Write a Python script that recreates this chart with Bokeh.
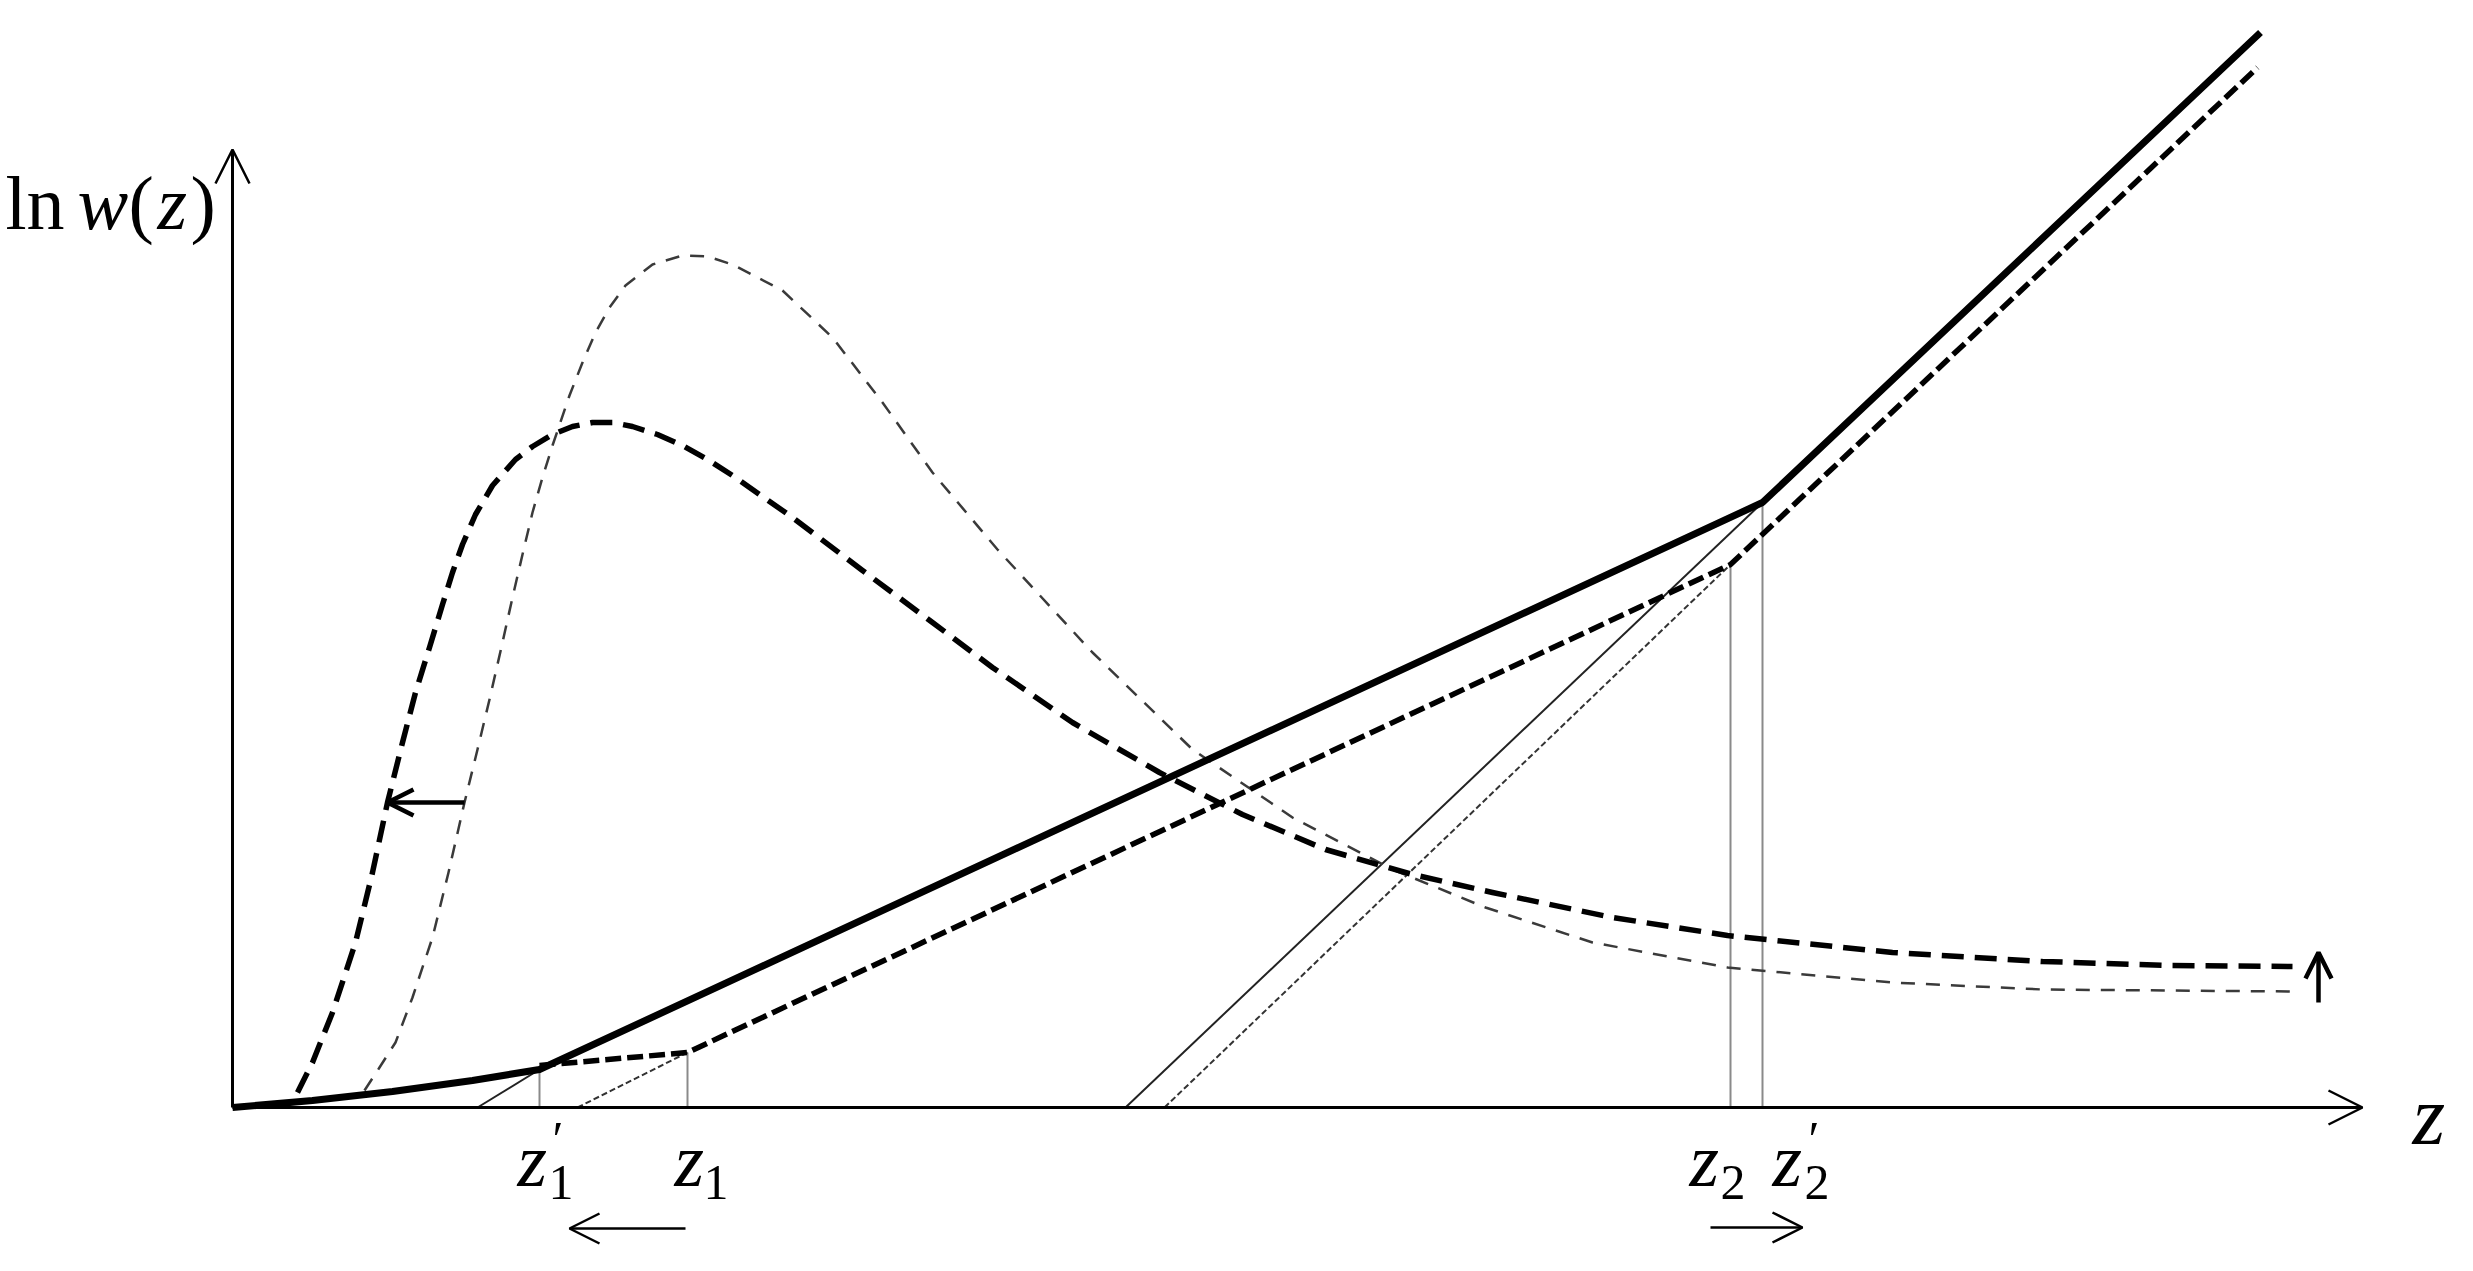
from bokeh.plotting import figure
from bokeh.models import Range1d, Arrow, OpenHead
from bokeh.core.properties import value
from bokeh.embed import file_html
from bokeh.resources import INLINE

# ---------------- data (schematic units: z along x, ln w(z) along y) ----------------
# thick solid ln w(z) (new), piecewise with kinks at z1' and z2'
solid_z = [0.0, 0.8, 1.6, 2.4, 3.07, 15.30, 20.28]
solid_w = [0.0, 0.07, 0.16, 0.27, 0.38, 6.05, 10.75]

# thick dashed ln w(z) (old), kinks at z1 and z2
dline_z = [3.07, 4.55, 14.98, 20.25]
dline_w = [0.42, 0.55, 5.43, 10.40]

# thin extension lines
ext1_z = [2.45, 3.07];   ext1_w = [0.0, 0.38]     # solid, to z1'
ext2_z = [3.45, 4.55];   ext2_w = [0.0, 0.55]     # dotted, to z1
ext3_z = [8.93, 15.30];  ext3_w = [0.0, 6.05]     # solid, to z2'
ext4_z = [9.32, 14.98];  ext4_w = [0.0, 5.43]     # dotted, to z2

# vertical markers
mark_z = [3.07, 4.55, 14.98, 15.30]
mark_w = [0.38, 0.55, 5.43, 6.05]

# thick dashed density curve (shifted)
bell1_z = [0.65, 0.80, 1.00, 1.23, 1.40, 1.55, 1.70, 1.83, 1.97, 2.10, 2.20, 2.30, 2.43,
           2.60, 2.83, 3.00, 3.20, 3.40, 3.60, 3.80, 4.00, 4.25, 4.50, 4.75, 5.00, 5.60,
           6.30, 7.00, 7.60, 8.40, 9.27, 10.10, 10.93, 11.80, 12.60, 13.80, 14.95, 16.60,
           18.10, 19.40, 20.60]
bell1_w = [0.15, 0.45, 0.95, 1.65, 2.35, 3.05, 3.65, 4.15, 4.60, 5.03, 5.35, 5.63, 5.93,
           6.22, 6.48, 6.61, 6.73, 6.81, 6.85, 6.85, 6.81, 6.73, 6.62, 6.48, 6.32, 5.90,
           5.37, 4.85, 4.40, 3.85, 3.35, 2.93, 2.58, 2.33, 2.15, 1.90, 1.72, 1.55,
           1.46, 1.42, 1.41]

# thin dashed density curve (original)
bell2_z = [1.32, 1.47, 1.63, 1.80, 2.00, 2.16, 2.32, 2.45, 2.57, 2.70, 2.80, 2.90, 3.00,
           3.10, 3.20, 3.37, 3.50, 3.63, 3.77, 3.93, 4.20, 4.50, 4.75, 5.00, 5.50, 6.00,
           6.50, 7.00, 7.65, 8.60, 9.60, 10.60, 11.60, 12.53, 13.60, 14.95, 16.60, 18.10,
           20.60]
bell2_w = [0.17, 0.40, 0.65, 1.10, 1.70, 2.35, 3.05, 3.58, 4.08, 4.65, 5.10, 5.53, 5.95,
           6.30, 6.62, 7.12, 7.45, 7.75, 8.00, 8.22, 8.43, 8.52, 8.51, 8.43, 8.17, 7.70,
           7.05, 6.35, 5.58, 4.55, 3.58, 2.90, 2.38, 2.00, 1.65, 1.40, 1.25, 1.18,
           1.16]

# arrows: (x_start, y_start, x_end, y_end)
axis_arrows = [(0.0, 0.0, 21.30, 0.0), (0.0, 0.0, 0.0, 9.58)]
shift_arrows = [(2.32, 3.05, 1.55, 3.05), (20.86, 1.05, 20.86, 1.55)]
label_arrows = [(4.53, -1.21, 3.37, -1.21), (14.78, -1.20, 15.70, -1.20)]

# labels
ylab_parts = ["ln", "w", "(", "z", ")"]
ylab_x = [-2.27, -1.55, -1.04, -0.75, -0.42]
ylab_style = ["normal", "italic", "normal", "italic", "normal"]
ylab_y = 9.05
zlab_x = [2.85, 4.42, 14.57, 15.40]
zlab_sub = ["1", "1", "2", "2"]
zlab_sub_x = [3.16, 4.71, 14.88, 15.72]
zlab_prime = [True, False, False, True]
zlab_y = -0.52
zlab_sub_y = -0.75

FONT = value("Liberation Serif")

p = figure(width=2457, height=1255, x_range=Range1d(-2.32, 22.25), y_range=Range1d(-1.48, 11.07),
           x_axis_type=None, y_axis_type=None, output_backend="svg", toolbar_location=None,
           min_border=0, outline_line_color=None, background_fill_color="white")
p.grid.visible = False

# vertical markers
p.segment(x0=mark_z, y0=[0]*4, x1=mark_z, y1=mark_w, line_color="#8a8a8a", line_width=2)

# extension lines
p.line(ext1_z, ext1_w, line_color="#222", line_width=2)
p.line(ext3_z, ext3_w, line_color="#222", line_width=2)
p.line(ext2_z, ext2_w, line_color="#333", line_width=2, line_dash="6 3")
p.line(ext4_z, ext4_w, line_color="#333", line_width=2, line_dash="6 3")

# density curves
p.line(bell2_z, bell2_w, line_color="#3a3a3a", line_width=2.5, line_dash="14 11",
       line_join="round")
p.line(bell1_z, bell1_w, line_color="black", line_width=5.5, line_dash="22 11",
       line_join="round")

# ln w lines
p.line(dline_z, dline_w, line_color="black", line_width=5.5, line_dash="16 6")
p.line(solid_z, solid_w, line_color="black", line_width=7, line_join="round")

# axes
for (x0, y0, x1, y1) in axis_arrows:
    p.add_layout(Arrow(end=OpenHead(size=34, line_width=2.5, line_color="black"),
                       x_start=x0, y_start=y0, x_end=x1, y_end=y1,
                       line_width=3, line_color="black"))
for (x0, y0, x1, y1) in shift_arrows:
    p.add_layout(Arrow(end=OpenHead(size=26, line_width=4.5, line_color="black"),
                       x_start=x0, y_start=y0, x_end=x1, y_end=y1,
                       line_width=4.5, line_color="black"))
for (x0, y0, x1, y1) in label_arrows:
    p.add_layout(Arrow(end=OpenHead(size=30, line_width=2.5, line_color="black"),
                       x_start=x0, y_start=y0, x_end=x1, y_end=y1,
                       line_width=2.5, line_color="black"))

# y label
for t, x, st in zip(ylab_parts, ylab_x, ylab_style):
    p.text(x=[x], y=[ylab_y], text=[t], text_font=FONT, text_font_size="76px",
           text_font_style=st, text_baseline="alphabetic", text_align="left", text_color="black")

# x label
p.text(x=[21.80], y=[-0.08], text=["z"], text_font=FONT, text_font_size="84px",
       text_font_style="italic", text_baseline="alphabetic", text_align="left", text_color="black")

# z tick labels
for x, s, sx, pr in zip(zlab_x, zlab_sub, zlab_sub_x, zlab_prime):
    p.text(x=[x], y=[zlab_y], text=["z"], text_font=FONT, text_font_size="76px",
           text_font_style="italic", text_baseline="alphabetic", text_align="left", text_color="black")
    p.text(x=[sx], y=[zlab_sub_y], text=[s], text_font=FONT, text_font_size="50px",
           text_baseline="alphabetic", text_align="left", text_color="black")
    if pr:
        p.text(x=[sx + 0.04], y=[-0.03], text=["\u2032"], text_font=FONT, text_font_size="50px",
               text_baseline="top", text_align="left", text_color="black")

open("out.html", "w").write(file_html(p, INLINE))
